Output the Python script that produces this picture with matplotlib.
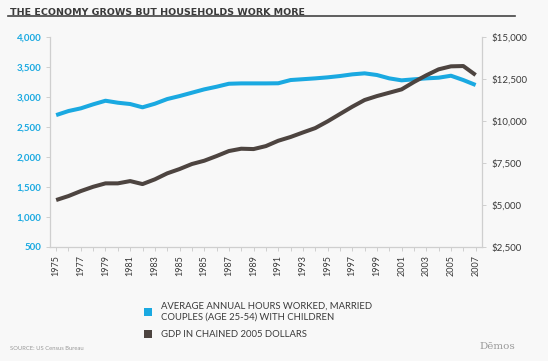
import matplotlib.pyplot as plt
from matplotlib.patches import Patch

# 35 data points; the original chart labels every other point (including its duplicated 1985)
tick_labels = ['1975', '1977', '1979', '1981', '1983', '1985', '1985', '1987', '1989',
               '1991', '1993', '1995', '1997', '1999', '2001', '2003', '2005', '2007']

hours = [2700, 2768, 2813, 2880, 2940, 2907, 2885, 2830, 2890, 2968, 3018, 3074,
         3130, 3174, 3224, 3230, 3230, 3230, 3232, 3286, 3300, 3314, 3331, 3353,
         3381, 3398, 3370, 3314, 3281, 3298, 3314, 3325, 3358, 3286, 3203]

gdp = [5286, 5525, 5821, 6078, 6282, 6282, 6418, 6239, 6521, 6879, 7136, 7436,
       7632, 7911, 8211, 8350, 8329, 8507, 8825, 9050, 9320, 9582, 9982, 10421,
       10857, 11257, 11493, 11693, 11893, 12332, 12732, 13089, 13268, 13286, 12750]

left_ticks = [500, 1000, 1500, 2000, 2500, 3000, 3500, 4000]
right_ticks = [2500, 5000, 7500, 10000, 12500, 15000]

blue = '#1aa9e1'
brown = '#4d4440'
bg = '#f8f8f8'
axis_grey = '#cfcfcf'
text_dark = '#3a3a3a'

plt.rcParams['font.family'] = ['Lato', 'DejaVu Sans']

fig = plt.figure(figsize=(5.48, 3.61), dpi=100, facecolor=bg)
ax = fig.add_axes([0.0912, 0.3166, 0.788, 0.58], facecolor=bg)
ax2 = ax.twinx()

x = list(range(len(hours)))
ax.plot(x, hours, color=blue, lw=2.9, solid_capstyle='butt', zorder=3)
ax2.plot(x, gdp, color=brown, lw=2.9, solid_capstyle='butt', zorder=3)

ax.set_xlim(-0.5, 34.5)
ax.set_ylim(500, 4000)
ax2.set_ylim(2500, 15000)

ax.set_xticks(x)
labels = []
for i in x:
    labels.append(tick_labels[i // 2] if i % 2 == 0 else '')
ax.set_xticklabels(labels, rotation=90, fontsize=6.5, color=text_dark)

ax.set_yticks(left_ticks)
ax.set_yticklabels([f'{v:,}' for v in left_ticks], fontsize=7, color=blue,
                   fontweight='bold')
ax2.set_yticks(right_ticks)
ax2.set_yticklabels([f'${v:,}' for v in right_ticks], fontsize=7, color=text_dark)

for a in (ax, ax2):
    for s in a.spines.values():
        s.set_color(axis_grey)
        s.set_linewidth(0.8)
    a.spines['top'].set_visible(False)
ax.tick_params(axis='both', length=3, width=0.7, color=axis_grey, pad=3)
ax2.tick_params(axis='y', length=3, width=0.7, color=axis_grey, pad=4)

# title with rule underneath
fig.text(0.018, 0.978, 'THE ECONOMY GROWS BUT HOUSEHOLDS WORK MORE', fontsize=6.8,
         fontweight='semibold', family='DejaVu Sans', color=text_dark,
         va='top', ha='left')
fig.add_artist(plt.Line2D([0.015, 0.94], [0.955, 0.955], color='#444444', lw=1.2,
                          transform=fig.transFigure))

handles = [Patch(facecolor=blue, edgecolor='none'),
           Patch(facecolor=brown, edgecolor='none')]
leg = fig.legend(handles,
                 ['AVERAGE ANNUAL HOURS WORKED, MARRIED\nCOUPLES (AGE 25-54) WITH CHILDREN',
                  'GDP IN CHAINED 2005 DOLLARS'],
                 loc='upper left', bbox_to_anchor=(0.255, 0.174), frameon=False,
                 fontsize=6.8, handlelength=0.9, handleheight=0.9, handletextpad=0.9,
                 labelspacing=0.9, borderaxespad=0)
for t in leg.get_texts():
    t.set_color(text_dark)

fig.text(0.018, 0.035, 'SOURCE: US Census Bureau', fontsize=4.2, color='#999999',
         ha='left', va='center')
fig.text(0.94, 0.04, 'Dēmos', fontsize=7.5, color='#9a9a9a', family='DejaVu Serif',
         ha='right', va='center')

fig.savefig('out.png', dpi=100, facecolor=bg)
